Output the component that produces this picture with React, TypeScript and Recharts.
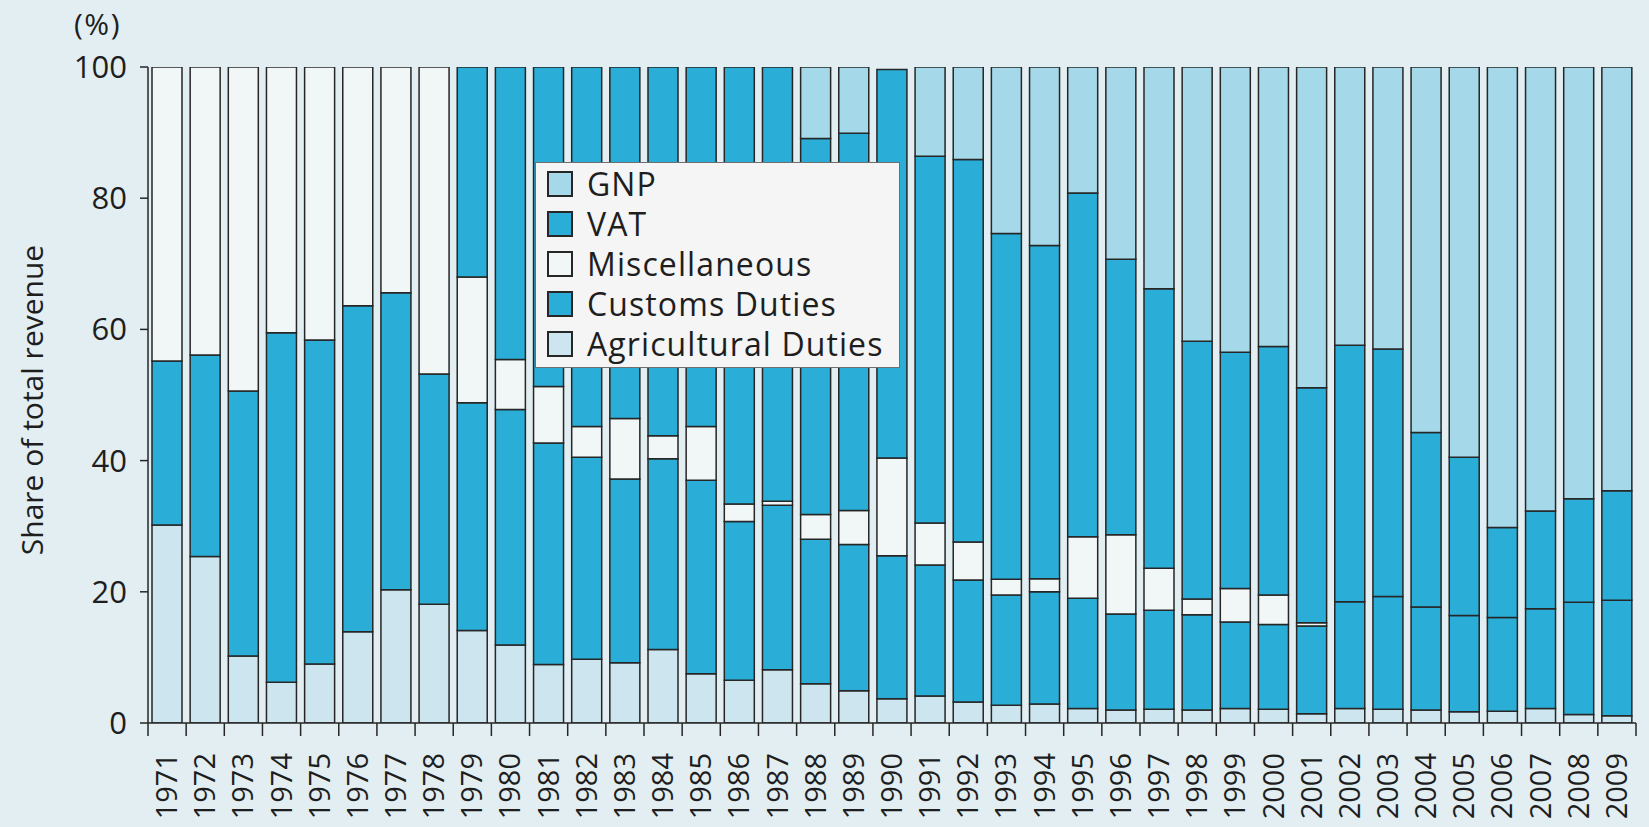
import React from 'react';
import { BarChart, Bar, XAxis, YAxis, Legend } from 'recharts';

const YEARS = [
  '1971', '1972', '1973', '1974', '1975', '1976', '1977', '1978', '1979', '1980',
  '1981', '1982', '1983', '1984', '1985', '1986', '1987', '1988', '1989', '1990',
  '1991', '1992', '1993', '1994', '1995', '1996', '1997', '1998', '1999', '2000',
  '2001', '2002', '2003', '2004', '2005', '2006', '2007', '2008', '2009',
];

const AGRICULTURAL_DUTIES = [
  30.2, 25.4, 10.2, 6.2, 9.0, 13.9, 20.3, 18.1, 14.1, 11.9,
  8.9, 9.7, 9.2, 11.2, 7.5, 6.5, 8.1, 6.0, 4.9, 3.7,
  4.1, 3.2, 2.7, 2.9, 2.2, 2.0, 2.1, 2.0, 2.2, 2.1,
  1.4, 2.2, 2.1, 2.0, 1.7, 1.8, 2.2, 1.3, 1.1,
];

const CUSTOMS_DUTIES = [
  25.0, 30.7, 40.4, 53.3, 49.4, 49.7, 45.3, 35.1, 34.7, 35.9,
  33.8, 30.8, 28.0, 29.1, 29.5, 24.2, 25.1, 22.0, 22.3, 21.8,
  20.0, 18.6, 16.8, 17.1, 16.8, 14.6, 15.1, 14.5, 13.2, 12.9,
  13.4, 16.3, 17.2, 15.7, 14.7, 14.3, 15.2, 17.1, 17.6,
];

const MISCELLANEOUS = [
  44.8, 43.9, 49.4, 40.5, 41.6, 36.4, 34.4, 46.8, 19.2, 7.6,
  8.6, 4.7, 9.2, 3.5, 8.2, 2.7, 0.6, 3.8, 5.2, 14.9,
  6.4, 5.8, 2.4, 2.0, 9.4, 12.1, 6.4, 2.4, 5.1, 4.5,
  0.5, 0, 0, 0, 0, 0, 0, 0, 0,
];

const VAT = [
  0, 0, 0, 0, 0, 0, 0, 0, 32.0, 44.6,
  48.7, 54.8, 53.6, 56.2, 54.8, 66.6, 66.2, 57.3, 57.5, 59.2,
  55.9, 58.3, 52.7, 50.8, 52.4, 42.0, 42.6, 39.3, 36.0, 37.9,
  35.8, 39.1, 37.7, 26.6, 24.1, 13.7, 14.9, 15.8, 16.7,
];

const GNP = [
  0, 0, 0, 0, 0, 0, 0, 0, 0, 0,
  0, 0, 0, 0, 0, 0, 0, 10.9, 10.1, 0,
  13.6, 14.1, 25.4, 27.2, 19.2, 29.3, 33.8, 41.8, 43.5, 42.6,
  48.9, 42.4, 43.0, 55.7, 59.5, 70.2, 67.7, 65.8, 64.6,
];

const Y_TICKS = [0, 20, 40, 60, 80, 100];

const SERIES = [
  { key: 'agri', name: 'Agricultural Duties', values: AGRICULTURAL_DUTIES, color: '#cce5ee' },
  { key: 'customs', name: 'Customs Duties', values: CUSTOMS_DUTIES, color: '#2aaed7' },
  { key: 'misc', name: 'Miscellaneous', values: MISCELLANEOUS, color: '#f1f6f7' },
  { key: 'vat', name: 'VAT', values: VAT, color: '#2aaed7' },
  { key: 'gnp', name: 'GNP', values: GNP, color: '#a5d8e9' },
];

const data = YEARS.map((year, i) => {
  const row: Record<string, any> = { year };
  SERIES.forEach((s) => {
    row[s.key] = s.values[i];
  });
  return row;
});

const FONT = '"Open Sans", "DejaVu Sans", sans-serif';
const INK = '#1e1e1e';
const LINE = '#262626';

const XTick = (props: any) => {
  const { x, y, payload, index } = props;
  const half = payload && typeof payload.offset === 'number' && payload.offset > 0 ? payload.offset : 19;
  const left = x - half;
  const isLast = index === YEARS.length - 1;
  const tx = x + 10;
  const ty = y + 30;
  return (
    <g>
      <line x1={left} x2={left} y1={y} y2={y + 13} stroke={LINE} strokeWidth={1.5} />
      {isLast && <line x1={x + half} x2={x + half} y1={y} y2={y + 13} stroke={LINE} strokeWidth={1.5} />}
      <text
        x={tx}
        y={ty}
        transform={`rotate(-90, ${tx}, ${ty})`}
        textAnchor="end"
        fontSize={29}
        fill={INK}
        fontFamily={FONT}
      >
        {payload.value}
      </text>
    </g>
  );
};

const YLabels = (props: any) => {
  const vb = props.viewBox || { x: 0, y: 67, width: 148, height: 656 };
  const cx = vb.x + 31;
  const cy = vb.y + vb.height / 2 + 5;
  return (
    <g>
      <text
        x={cx}
        y={cy}
        transform={`rotate(-90, ${cx}, ${cy})`}
        textAnchor="middle"
        dominantBaseline="central"
        fontSize={30}
        fill={INK}
        fontFamily={FONT}
      >
        Share of total revenue
      </text>
      <text x={vb.x + 74} y={vb.y - 32} fontSize={30} letterSpacing={1.5} fill={INK} fontFamily={FONT}>
        (%)
      </text>
    </g>
  );
};

const LegendBox = () => {
  const items = [...SERIES].reverse();
  return (
    <div
      style={{
        boxSizing: 'border-box',
        width: 365,
        height: 206,
        background: '#f4f5f4',
        border: '1.5px solid #6f6f6f',
        padding: '1px 0 0 11px',
        fontFamily: FONT,
      }}
    >
      {items.map((s) => (
        <div key={s.key} style={{ display: 'flex', alignItems: 'center', height: 40 }}>
          <div
            style={{
              boxSizing: 'border-box',
              width: 26,
              height: 26,
              background: s.color,
              border: `2px solid ${LINE}`,
              marginRight: 14,
            }}
          />
          <span style={{ fontSize: 32, color: INK, letterSpacing: 1.1, lineHeight: '40px', whiteSpace: 'nowrap' }}>
            {s.name}
          </span>
        </div>
      ))}
    </div>
  );
};

export default function App() {
  return (
    <div
      style={{
        position: 'fixed',
        left: 0,
        top: 0,
        width: 1649,
        height: 827,
        background: '#e2eef2',
        overflow: 'hidden',
      }}
    >
      <BarChart
        width={1649}
        height={827}
        data={data}
        margin={{ top: 67, right: 13, bottom: 0, left: 0 }}
        barSize={30}
      >
        <XAxis
          dataKey="year"
          type="category"
          height={104}
          interval={0}
          tickSize={0}
          tickMargin={0}
          tickLine={false}
          axisLine={{ stroke: LINE, strokeWidth: 1.5 }}
          tick={<XTick />}
        />
        <YAxis
          type="number"
          domain={[0, 100]}
          ticks={Y_TICKS}
          width={148}
          tickSize={8}
          tickMargin={13}
          axisLine={{ stroke: LINE, strokeWidth: 1.5 }}
          tickLine={{ stroke: LINE, strokeWidth: 1.5 }}
          tick={{ fontSize: 31, fill: INK, fontFamily: FONT }}
          label={(p: any) => <YLabels {...p} />}
          allowDataOverflow
        />
        <Legend
          layout="vertical"
          verticalAlign="middle"
          align="center"
          wrapperStyle={{ left: 535, top: 162, width: 365, height: 206 }}
          content={() => <LegendBox />}
        />
        {SERIES.map((s) => (
          <Bar
            key={s.key}
            dataKey={s.key}
            name={s.name}
            stackId="revenue"
            fill={s.color}
            stroke={LINE}
            strokeWidth={1.5}
            isAnimationActive={false}
          />
        ))}
      </BarChart>
    </div>
  );
}
